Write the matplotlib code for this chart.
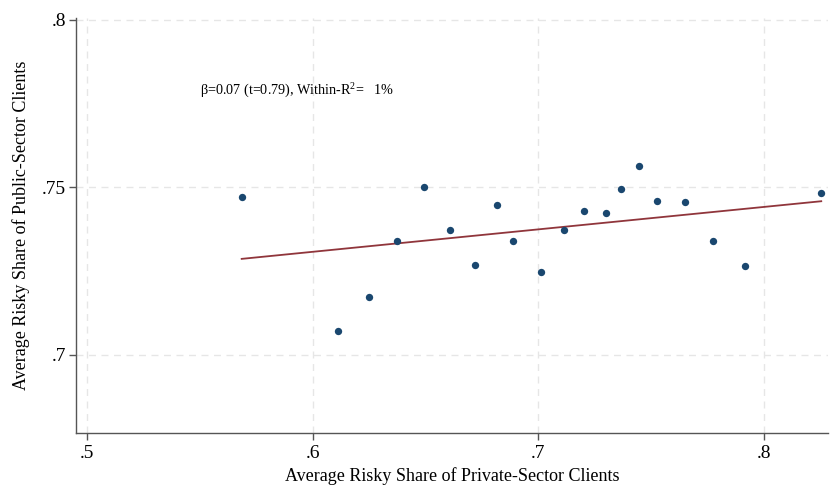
import numpy as np
import matplotlib
matplotlib.use("Agg")
import matplotlib.pyplot as plt
from matplotlib.ticker import FuncFormatter

plt.rcParams['font.family'] = ['Liberation Serif', 'DejaVu Serif']
plt.rcParams['mathtext.fontset'] = 'custom'
plt.rcParams['mathtext.rm'] = 'Liberation Serif'

# binned means
private_share = [0.5685, 0.6114, 0.6250, 0.6375, 0.6494, 0.6606, 0.6719, 0.6818, 0.6885, 0.7010,
                 0.7115, 0.7201, 0.7299, 0.7367, 0.7447, 0.7525, 0.7651, 0.7775, 0.7916, 0.8253]
public_share = [0.7472, 0.7072, 0.7172, 0.7340, 0.7500, 0.7373, 0.7267, 0.7446, 0.7340, 0.7246,
                0.7372, 0.7430, 0.7424, 0.7494, 0.7562, 0.7458, 0.7456, 0.7338, 0.7264, 0.7483]

# fitted line (from regression)
fit_slope = 0.067
fit_intercept = 0.6905

xticks = [0.5, 0.6, 0.7, 0.8]
yticks = [0.7, 0.75, 0.8]

fig = plt.figure(figsize=(8.3, 4.86), dpi=100)
ax = fig.add_axes([0.0916, 0.109, 0.906, 0.854])

ax.grid(True, color='#e6e6e6', linestyle=(0, (5, 4)), linewidth=1.0)
ax.set_axisbelow(True)

xs = np.array([min(private_share), max(private_share)])
ax.plot(xs, fit_intercept + fit_slope * xs, color='#90353b', linewidth=1.3, zorder=2)
ax.scatter(private_share, public_share, s=28, color='#1a476f', zorder=3, linewidths=0)

ax.set_xlim(0.4951, 0.8283)
ax.set_ylim(0.6766, 0.8005)
ax.set_xticks(xticks)
ax.set_yticks(yticks)
fmt = FuncFormatter(lambda v, p: ('%g' % v).lstrip('0'))
ax.xaxis.set_major_formatter(fmt)
ax.yaxis.set_major_formatter(fmt)

for side in ['top', 'right']:
    ax.spines[side].set_visible(False)
for side in ['left', 'bottom']:
    ax.spines[side].set_color('#555555')
    ax.spines[side].set_linewidth(1.0)
ax.tick_params(direction='out', length=5.3, width=1, color='#555555', labelsize=14)
ax.tick_params(axis='x', pad=3.5)
ax.tick_params(axis='y', pad=2)

ax.set_xlabel('Average Risky Share of Private-Sector Clients', fontsize=13, labelpad=3.5)
ax.set_ylabel('Average Risky Share of Public-Sector Clients', fontsize=13, labelpad=8.5)

ax.text(0.55, 0.7792, 'β=0.07 (t=0.79), Within-R$^{2}$=   1%', fontsize=10.2, va='center', ha='left')

fig.savefig('out.png', dpi=100, facecolor='white')
